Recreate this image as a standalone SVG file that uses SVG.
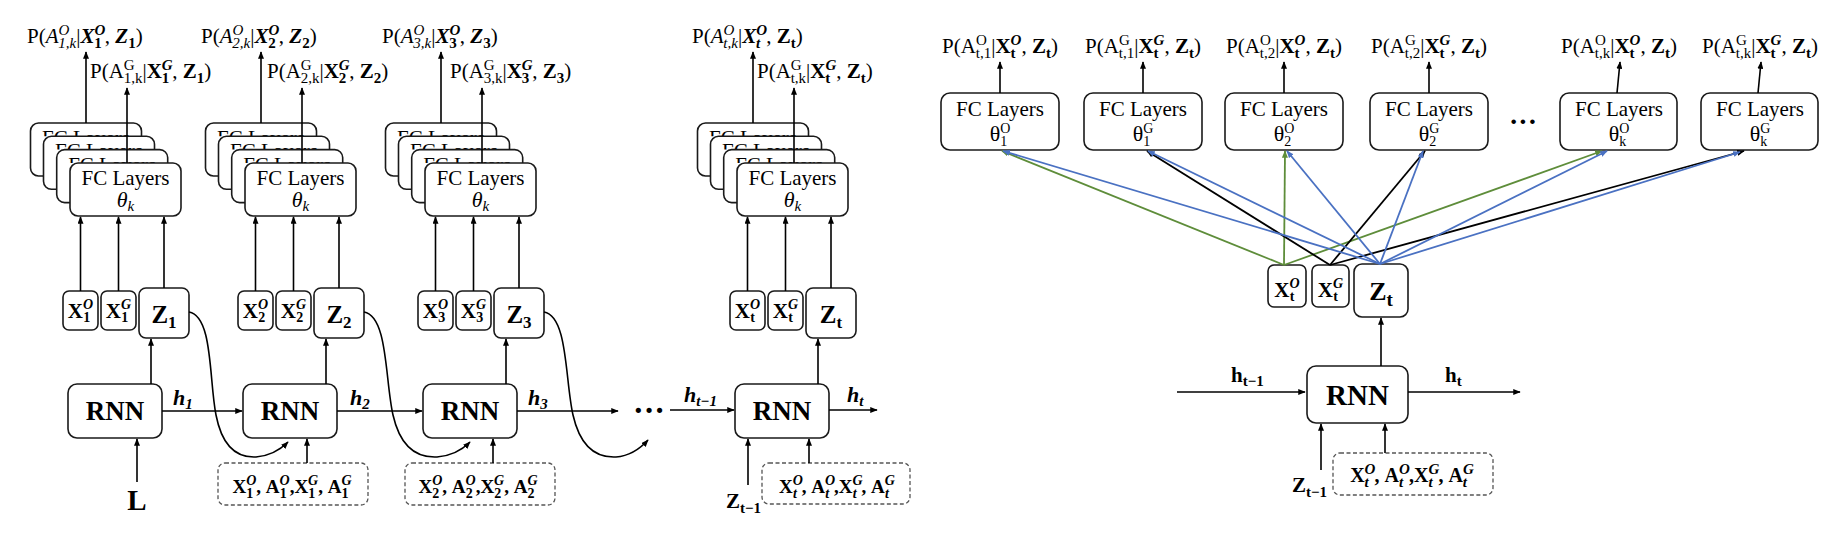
<svg xmlns="http://www.w3.org/2000/svg" width="1838" height="536" viewBox="0 0 1838 536">
<defs>
<style>
text{font-family:"Liberation Serif","Times New Roman",serif;fill:#000}
.box{fill:#fff;stroke:#1a1a1a;stroke-width:1.6}
.dash{fill:#fff;stroke:#555;stroke-width:1.3;stroke-dasharray:4 2.5}
.ln{stroke:#000;stroke-width:1.6;fill:none}
.ar{marker-end:url(#ak)}
.g{stroke:#5e8d3a;stroke-width:1.8;fill:none;marker-end:url(#ag)}
.bl{stroke:#4a71c2;stroke-width:1.8;fill:none;marker-end:url(#ab)}
.k{stroke:#000;stroke-width:1.8;fill:none;marker-end:url(#ak)}
.lbl{font-size:21px}
.mid{text-anchor:middle}
.s{font-size:15px}
.s2{font-size:14px}
.b{font-weight:bold}
.i{font-style:italic}
.fc{font-size:21px;text-anchor:middle}
.th{font-size:22px}
.rnn{font-size:27px;font-weight:bold;text-anchor:middle}
.sx{font-size:21px;font-weight:bold;text-anchor:middle}
.zx{font-size:25px;font-weight:bold;text-anchor:middle}
.zs{font-size:17px}
.dt{font-size:19px;font-weight:bold;text-anchor:middle}
.hl{font-size:22px;font-weight:bold;font-style:italic}
.hr{font-size:21px;font-weight:bold}
.hs{font-size:15px}
</style>
<clipPath id="cb"><rect x="0" y="0" width="111" height="13.3"/></clipPath>
<marker id="ak" viewBox="0 0 10 8" refX="9" refY="4" markerWidth="7.5" markerHeight="6" markerUnits="userSpaceOnUse" orient="auto"><path d="M0,0 L10,4 L0,8 z" fill="#000"/></marker>
<marker id="ag" viewBox="0 0 10 8" refX="9" refY="4" markerWidth="7.5" markerHeight="6" markerUnits="userSpaceOnUse" orient="auto"><path d="M0,0 L10,4 L0,8 z" fill="#5e8d3a"/></marker>
<marker id="ab" viewBox="0 0 10 8" refX="9" refY="4" markerWidth="7.5" markerHeight="6" markerUnits="userSpaceOnUse" orient="auto"><path d="M0,0 L10,4 L0,8 z" fill="#4a71c2"/></marker>
</defs>
<rect width="1838" height="536" fill="#fff"/>

<!-- ================= LEFT PANEL ================= -->
<g id="labels-left">
<text class="lbl" x="27" y="43">P(<tspan class="i">A</tspan><tspan class="s i" dy="-8">O</tspan><tspan class="s i" dx="-11" dy="13">1,k</tspan><tspan dy="-5">|</tspan><tspan class="b i">X</tspan><tspan class="s b i" dy="-8">O</tspan><tspan class="s b" dx="-11" dy="13">1</tspan><tspan dx="3" dy="-5">,&#160;</tspan><tspan class="b i">Z</tspan><tspan class="s b" dy="5">1</tspan><tspan dy="-5">)</tspan></text>
<text class="lbl" x="90" y="78">P(A<tspan class="s" dy="-8">G</tspan><tspan class="s" dx="-11" dy="13">1,k</tspan><tspan dy="-5">|</tspan><tspan class="b">X</tspan><tspan class="s b i" dy="-8">G</tspan><tspan class="s b" dx="-11" dy="13">1</tspan><tspan dx="3" dy="-5">,&#160;</tspan><tspan class="b">Z</tspan><tspan class="s b" dy="5">1</tspan><tspan dy="-5">)</tspan></text>
<text class="lbl" x="201" y="43">P(<tspan class="i">A</tspan><tspan class="s i" dy="-8">O</tspan><tspan class="s i" dx="-11" dy="13">2,k</tspan><tspan dy="-5">|</tspan><tspan class="b i">X</tspan><tspan class="s b i" dy="-8">O</tspan><tspan class="s b" dx="-11" dy="13">2</tspan><tspan dx="3" dy="-5">,&#160;</tspan><tspan class="b i">Z</tspan><tspan class="s b" dy="5">2</tspan><tspan dy="-5">)</tspan></text>
<text class="lbl" x="267" y="78">P(A<tspan class="s" dy="-8">G</tspan><tspan class="s" dx="-11" dy="13">2,k</tspan><tspan dy="-5">|</tspan><tspan class="b">X</tspan><tspan class="s b i" dy="-8">G</tspan><tspan class="s b" dx="-11" dy="13">2</tspan><tspan dx="3" dy="-5">,&#160;</tspan><tspan class="b">Z</tspan><tspan class="s b" dy="5">2</tspan><tspan dy="-5">)</tspan></text>
<text class="lbl" x="382" y="43">P(<tspan class="i">A</tspan><tspan class="s i" dy="-8">O</tspan><tspan class="s i" dx="-11" dy="13">3,k</tspan><tspan dy="-5">|</tspan><tspan class="b i">X</tspan><tspan class="s b i" dy="-8">O</tspan><tspan class="s b" dx="-11" dy="13">3</tspan><tspan dx="3" dy="-5">,&#160;</tspan><tspan class="b i">Z</tspan><tspan class="s b" dy="5">3</tspan><tspan dy="-5">)</tspan></text>
<text class="lbl" x="450" y="78">P(A<tspan class="s" dy="-8">G</tspan><tspan class="s" dx="-11" dy="13">3,k</tspan><tspan dy="-5">|</tspan><tspan class="b">X</tspan><tspan class="s b i" dy="-8">G</tspan><tspan class="s b" dx="-11" dy="13">3</tspan><tspan dx="3" dy="-5">,&#160;</tspan><tspan class="b">Z</tspan><tspan class="s b" dy="5">3</tspan><tspan dy="-5">)</tspan></text>
<text class="lbl" x="692" y="43">P(<tspan class="i">A</tspan><tspan class="s i" dy="-8">O</tspan><tspan class="s i" dx="-11" dy="13">t,k</tspan><tspan dy="-5">|</tspan><tspan class="b i">X</tspan><tspan class="s b i" dy="-8">O</tspan><tspan class="s b i" dx="-11" dy="13">t</tspan><tspan dx="6" dy="-5">,&#160;</tspan><tspan class="b">Z</tspan><tspan class="s b" dy="5">t</tspan><tspan dy="-5">)</tspan></text>
<text class="lbl" x="757" y="78">P(A<tspan class="s" dy="-8">G</tspan><tspan class="s" dx="-11" dy="13">t,k</tspan><tspan dy="-5">|</tspan><tspan class="b">X</tspan><tspan class="s b i" dy="-8">G</tspan><tspan class="s b" dx="-11" dy="13">t</tspan><tspan dx="6" dy="-5">,&#160;</tspan><tspan class="b">Z</tspan><tspan class="s b" dy="5">t</tspan><tspan dy="-5">)</tspan></text>
</g>

<g id="fc-stack-1">
<g transform="translate(30.5,123)"><rect class="box" width="111" height="53" rx="8"/><text class="fc" x="55.5" y="22" clip-path="url(#cb)">FC Layers</text></g>
<g transform="translate(43.5,136.3)"><rect class="box" width="111" height="53" rx="8"/><text class="fc" x="55.5" y="22" clip-path="url(#cb)">FC Layers</text></g>
<g transform="translate(56.7,149.6)"><rect class="box" width="111" height="53" rx="8"/><text class="fc" x="55.5" y="22" clip-path="url(#cb)">FC Layers</text></g>
<rect class="box" x="70" y="163" width="111" height="53" rx="8"/><text class="fc" x="125.5" y="185">FC Layers</text>
<text class="th i mid" x="125.5" y="207">θ<tspan class="s" dy="4">k</tspan></text>
</g>
<g id="fc-stack-2">
<g transform="translate(205.5,123)"><rect class="box" width="111" height="53" rx="8"/><text class="fc" x="55.5" y="22" clip-path="url(#cb)">FC Layers</text></g>
<g transform="translate(218.5,136.3)"><rect class="box" width="111" height="53" rx="8"/><text class="fc" x="55.5" y="22" clip-path="url(#cb)">FC Layers</text></g>
<g transform="translate(231.7,149.6)"><rect class="box" width="111" height="53" rx="8"/><text class="fc" x="55.5" y="22" clip-path="url(#cb)">FC Layers</text></g>
<rect class="box" x="245" y="163" width="111" height="53" rx="8"/><text class="fc" x="300.5" y="185">FC Layers</text>
<text class="th i mid" x="300.5" y="207">θ<tspan class="s" dy="4">k</tspan></text>
</g>
<g id="fc-stack-3">
<g transform="translate(385.5,123)"><rect class="box" width="111" height="53" rx="8"/><text class="fc" x="55.5" y="22" clip-path="url(#cb)">FC Layers</text></g>
<g transform="translate(398.5,136.3)"><rect class="box" width="111" height="53" rx="8"/><text class="fc" x="55.5" y="22" clip-path="url(#cb)">FC Layers</text></g>
<g transform="translate(411.7,149.6)"><rect class="box" width="111" height="53" rx="8"/><text class="fc" x="55.5" y="22" clip-path="url(#cb)">FC Layers</text></g>
<rect class="box" x="425" y="163" width="111" height="53" rx="8"/><text class="fc" x="480.5" y="185">FC Layers</text>
<text class="th i mid" x="480.5" y="207">θ<tspan class="s" dy="4">k</tspan></text>
</g>
<g id="fc-stack-t">
<g transform="translate(697.5,123)"><rect class="box" width="111" height="53" rx="8"/><text class="fc" x="55.5" y="22" clip-path="url(#cb)">FC Layers</text></g>
<g transform="translate(710.5,136.3)"><rect class="box" width="111" height="53" rx="8"/><text class="fc" x="55.5" y="22" clip-path="url(#cb)">FC Layers</text></g>
<g transform="translate(723.7,149.6)"><rect class="box" width="111" height="53" rx="8"/><text class="fc" x="55.5" y="22" clip-path="url(#cb)">FC Layers</text></g>
<rect class="box" x="737" y="163" width="111" height="53" rx="8"/><text class="fc" x="792.5" y="185">FC Layers</text>
<text class="th i mid" x="792.5" y="207">θ<tspan class="s" dy="4">k</tspan></text>
</g>

<g id="x1o"><rect class="box" x="63" y="291" width="35" height="39" rx="6"/><text class="sx" x="80.5" y="318">X<tspan class="s2 i" dy="-9">O</tspan><tspan class="s2" dx="-10" dy="13">1</tspan></text></g>
<g id="x1g"><rect class="box" x="101" y="291" width="35" height="39" rx="6"/><text class="sx" x="118.5" y="318">X<tspan class="s2 i" dy="-9">G</tspan><tspan class="s2" dx="-10" dy="13">1</tspan></text></g>
<g id="z1"><rect class="box" x="139" y="288" width="50" height="50" rx="7"/><text class="zx" x="164" y="323">Z<tspan class="zs" dy="5">1</tspan></text></g>
<g id="x2o"><rect class="box" x="238" y="291" width="35" height="39" rx="6"/><text class="sx" x="255.5" y="318">X<tspan class="s2 i" dy="-9">O</tspan><tspan class="s2" dx="-10" dy="13">2</tspan></text></g>
<g id="x2g"><rect class="box" x="276" y="291" width="35" height="39" rx="6"/><text class="sx" x="293.5" y="318">X<tspan class="s2 i" dy="-9">G</tspan><tspan class="s2" dx="-10" dy="13">2</tspan></text></g>
<g id="z2"><rect class="box" x="314" y="288" width="50" height="50" rx="7"/><text class="zx" x="339" y="323">Z<tspan class="zs" dy="5">2</tspan></text></g>
<g id="x3o"><rect class="box" x="418" y="291" width="35" height="39" rx="6"/><text class="sx" x="435.5" y="318">X<tspan class="s2 i" dy="-9">O</tspan><tspan class="s2" dx="-10" dy="13">3</tspan></text></g>
<g id="x3g"><rect class="box" x="456" y="291" width="35" height="39" rx="6"/><text class="sx" x="473.5" y="318">X<tspan class="s2 i" dy="-9">G</tspan><tspan class="s2" dx="-10" dy="13">3</tspan></text></g>
<g id="z3"><rect class="box" x="494" y="288" width="50" height="50" rx="7"/><text class="zx" x="519" y="323">Z<tspan class="zs" dy="5">3</tspan></text></g>
<g id="xto"><rect class="box" x="730" y="291" width="35" height="39" rx="6"/><text class="sx" x="747.5" y="318">X<tspan class="s2 i" dy="-9">O</tspan><tspan class="s2" dx="-10" dy="13">t</tspan></text></g>
<g id="xtg"><rect class="box" x="768" y="291" width="35" height="39" rx="6"/><text class="sx" x="785.5" y="318">X<tspan class="s2 i" dy="-9">G</tspan><tspan class="s2" dx="-10" dy="13">t</tspan></text></g>
<g id="zt"><rect class="box" x="806" y="288" width="50" height="50" rx="7"/><text class="zx" x="831" y="323">Z<tspan class="zs" dy="5">t</tspan></text></g>

<g id="rnn1"><rect class="box" x="68" y="384" width="94" height="54" rx="9"/><text class="rnn" x="115" y="420">RNN</text></g>
<g id="rnn2"><rect class="box" x="243" y="384" width="94" height="54" rx="9"/><text class="rnn" x="290" y="420">RNN</text></g>
<g id="rnn3"><rect class="box" x="423" y="384" width="94" height="54" rx="9"/><text class="rnn" x="470" y="420">RNN</text></g>
<g id="rnnt"><rect class="box" x="735" y="384" width="94" height="54" rx="9"/><text class="rnn" x="782" y="420">RNN</text></g>

<g id="in1"><rect class="dash" x="218" y="463" width="150" height="42" rx="7"/><text class="dt" x="292" y="493">X<tspan class="s2 i" dy="-8">O</tspan><tspan class="s2" dx="-10" dy="13">1</tspan><tspan dx="3" dy="-5">,&#160;A</tspan><tspan class="s2 i" dy="-8">O</tspan><tspan class="s2" dx="-10" dy="13">1</tspan><tspan dx="3" dy="-5">,X</tspan><tspan class="s2 i" dy="-8">G</tspan><tspan class="s2" dx="-10" dy="13">1</tspan><tspan dx="3" dy="-5">,&#160;A</tspan><tspan class="s2 i" dy="-8">G</tspan><tspan class="s2" dx="-10" dy="13">1</tspan></text></g>
<g id="in2"><rect class="dash" x="405" y="463" width="150" height="42" rx="7"/><text class="dt" x="478" y="493">X<tspan class="s2 i" dy="-8">O</tspan><tspan class="s2" dx="-10" dy="13">2</tspan><tspan dx="3" dy="-5">,&#160;A</tspan><tspan class="s2 i" dy="-8">O</tspan><tspan class="s2" dx="-10" dy="13">2</tspan><tspan dx="3" dy="-5">,X</tspan><tspan class="s2 i" dy="-8">G</tspan><tspan class="s2" dx="-10" dy="13">2</tspan><tspan dx="3" dy="-5">,&#160;A</tspan><tspan class="s2 i" dy="-8">G</tspan><tspan class="s2" dx="-10" dy="13">2</tspan></text></g>
<g id="int"><rect class="dash" x="762" y="463" width="148" height="41" rx="7"/><text class="dt" x="837" y="493">X<tspan class="s2 i" dy="-8">O</tspan><tspan class="s2 i" dx="-10" dy="13">t</tspan><tspan dx="5" dy="-5">,&#160;A</tspan><tspan class="s2 i" dy="-8">O</tspan><tspan class="s2 i" dx="-10" dy="13">t</tspan><tspan dx="5" dy="-5">,X</tspan><tspan class="s2 i" dy="-8">G</tspan><tspan class="s2 i" dx="-10" dy="13">t</tspan><tspan dx="5" dy="-5">,&#160;A</tspan><tspan class="s2 i" dy="-8">G</tspan><tspan class="s2 i" dx="-10" dy="13">t</tspan></text></g>

<g id="left-texts">
<text class="hl" x="173" y="405">h<tspan class="hs" dy="4">1</tspan></text>
<text class="hl" x="350" y="405">h<tspan class="hs" dy="4">2</tspan></text>
<text class="hl" x="528" y="405">h<tspan class="hs" dy="4">3</tspan></text>
<text class="hl" x="684" y="402">h<tspan class="hs" dy="4">t−1</tspan></text>
<text class="hl" x="847" y="402">h<tspan class="hs" dy="4">t</tspan></text>
<text class="b mid" x="649" y="421" style="font-size:32px">···</text>
<text class="b mid" x="137" y="510" style="font-size:29px">L</text>
<text class="b" x="726" y="508" style="font-size:21px">Z<tspan class="hs" dy="5">t−1</tspan></text>
</g>

<!-- ================= RIGHT PANEL ================= -->
<g id="labels-right">
<text class="lbl mid" x="1000" y="53">P(A<tspan class="s" dy="-8">O</tspan><tspan class="s" dx="-11" dy="13">t,1</tspan><tspan dy="-5">|</tspan><tspan class="b">X</tspan><tspan class="s b i" dy="-8">O</tspan><tspan class="s b" dx="-11" dy="13">t</tspan><tspan dx="6" dy="-5">,&#160;</tspan><tspan class="b">Z</tspan><tspan class="s b" dy="5">t</tspan><tspan dy="-5">)</tspan></text>
<text class="lbl mid" x="1143" y="53">P(A<tspan class="s" dy="-8">G</tspan><tspan class="s" dx="-11" dy="13">t,1</tspan><tspan dy="-5">|</tspan><tspan class="b">X</tspan><tspan class="s b i" dy="-8">G</tspan><tspan class="s b" dx="-11" dy="13">t</tspan><tspan dx="6" dy="-5">,&#160;</tspan><tspan class="b">Z</tspan><tspan class="s b" dy="5">t</tspan><tspan dy="-5">)</tspan></text>
<text class="lbl mid" x="1284" y="53">P(A<tspan class="s" dy="-8">O</tspan><tspan class="s" dx="-11" dy="13">t,2</tspan><tspan dy="-5">|</tspan><tspan class="b">X</tspan><tspan class="s b i" dy="-8">O</tspan><tspan class="s b" dx="-11" dy="13">t</tspan><tspan dx="6" dy="-5">,&#160;</tspan><tspan class="b">Z</tspan><tspan class="s b" dy="5">t</tspan><tspan dy="-5">)</tspan></text>
<text class="lbl mid" x="1429" y="53">P(A<tspan class="s" dy="-8">G</tspan><tspan class="s" dx="-11" dy="13">t,2</tspan><tspan dy="-5">|</tspan><tspan class="b">X</tspan><tspan class="s b i" dy="-8">G</tspan><tspan class="s b" dx="-11" dy="13">t</tspan><tspan dx="6" dy="-5">,&#160;</tspan><tspan class="b">Z</tspan><tspan class="s b" dy="5">t</tspan><tspan dy="-5">)</tspan></text>
<text class="lbl mid" x="1619" y="53">P(A<tspan class="s" dy="-8">O</tspan><tspan class="s" dx="-11" dy="13">t,k</tspan><tspan dy="-5">|</tspan><tspan class="b">X</tspan><tspan class="s b i" dy="-8">O</tspan><tspan class="s b" dx="-11" dy="13">t</tspan><tspan dx="6" dy="-5">,&#160;</tspan><tspan class="b">Z</tspan><tspan class="s b" dy="5">t</tspan><tspan dy="-5">)</tspan></text>
<text class="lbl mid" x="1760" y="53">P(A<tspan class="s" dy="-8">G</tspan><tspan class="s" dx="-11" dy="13">t,k</tspan><tspan dy="-5">|</tspan><tspan class="b">X</tspan><tspan class="s b i" dy="-8">G</tspan><tspan class="s b" dx="-11" dy="13">t</tspan><tspan dx="6" dy="-5">,&#160;</tspan><tspan class="b">Z</tspan><tspan class="s b" dy="5">t</tspan><tspan dy="-5">)</tspan></text>
</g>

<g id="fc-o1"><rect class="box" x="941" y="93" width="118" height="57" rx="9"/><text class="fc" x="1000" y="116">FC Layers</text><text class="th mid" x="1000" y="141">θ<tspan class="s2" dy="-8">O</tspan><tspan class="s2" dx="-10" dy="13">1</tspan></text></g>
<g id="fc-g1"><rect class="box" x="1084" y="93" width="118" height="57" rx="9"/><text class="fc" x="1143" y="116">FC Layers</text><text class="th mid" x="1143" y="141">θ<tspan class="s2" dy="-8">G</tspan><tspan class="s2" dx="-10" dy="13">1</tspan></text></g>
<g id="fc-o2"><rect class="box" x="1225" y="93" width="118" height="57" rx="9"/><text class="fc" x="1284" y="116">FC Layers</text><text class="th mid" x="1284" y="141">θ<tspan class="s2" dy="-8">O</tspan><tspan class="s2" dx="-10" dy="13">2</tspan></text></g>
<g id="fc-g2"><rect class="box" x="1370" y="93" width="118" height="57" rx="9"/><text class="fc" x="1429" y="116">FC Layers</text><text class="th mid" x="1429" y="141">θ<tspan class="s2" dy="-8">G</tspan><tspan class="s2" dx="-10" dy="13">2</tspan></text></g>
<g id="fc-ok"><rect class="box" x="1560" y="93" width="117" height="57" rx="9"/><text class="fc" x="1619" y="116">FC Layers</text><text class="th mid" x="1619" y="141">θ<tspan class="s2" dy="-8">O</tspan><tspan class="s2" dx="-10" dy="13">k</tspan></text></g>
<g id="fc-gk"><rect class="box" x="1701" y="93" width="117" height="57" rx="9"/><text class="fc" x="1760" y="116">FC Layers</text><text class="th mid" x="1760" y="141">θ<tspan class="s2" dy="-8">G</tspan><tspan class="s2" dx="-10" dy="13">k</tspan></text></g>
<text class="b mid" x="1523" y="131" style="font-size:28px">···</text>

<g id="r-xo"><rect class="box" x="1268" y="265" width="38" height="42" rx="6"/><text class="sx" x="1287" y="297">X<tspan class="s2 i" dy="-9">O</tspan><tspan class="s2" dx="-10" dy="13">t</tspan></text></g>
<g id="r-xg"><rect class="box" x="1312" y="265" width="37" height="42" rx="6"/><text class="sx" x="1330.5" y="297">X<tspan class="s2 i" dy="-9">G</tspan><tspan class="s2" dx="-10" dy="13">t</tspan></text></g>
<g id="r-zt"><rect class="box" x="1354" y="264" width="54" height="53" rx="8"/><text class="zx" x="1381" y="300" style="font-size:26px">Z<tspan class="zs" dy="6" style="font-size:19px">t</tspan></text></g>
<g id="r-rnn"><rect class="box" x="1307" y="366" width="101" height="57" rx="9"/><text class="rnn" x="1357.5" y="405" style="font-size:29px">RNN</text></g>
<g id="r-in"><rect class="dash" x="1333" y="453" width="160" height="42" rx="7"/><text class="dt" x="1412" y="482" style="font-size:20px">X<tspan class="s i" dy="-8">O</tspan><tspan class="s i" dx="-11" dy="13">t</tspan><tspan dx="6" dy="-5">,&#160;A</tspan><tspan class="s i" dy="-8">O</tspan><tspan class="s i" dx="-11" dy="13">t</tspan><tspan dx="6" dy="-5">,X</tspan><tspan class="s i" dy="-8">G</tspan><tspan class="s i" dx="-11" dy="13">t</tspan><tspan dx="6" dy="-5">,&#160;A</tspan><tspan class="s i" dy="-8">G</tspan><tspan class="s i" dx="-11" dy="13">t</tspan></text></g>
<g id="right-texts">
<text class="hr" x="1231" y="382">h<tspan class="hs" dy="4">t−1</tspan></text>
<text class="hr" x="1445" y="382">h<tspan class="hs" dy="4">t</tspan></text>
<text class="b" x="1292" y="492" style="font-size:21px">Z<tspan class="hs" dy="5">t−1</tspan></text>
</g>

<!-- ================= CONNECTORS ================= -->
<g id="connectors">
<g class="ln ar">
<path d="M86,123V52"/><path d="M127,163V88"/>
<path d="M261,123V52"/><path d="M302,163V88"/>
<path d="M441,123V52"/><path d="M482,163V88"/>
<path d="M753,123V52"/><path d="M794,163V88"/>
<path d="M80.5,291V217"/><path d="M118.5,291V217"/><path d="M164,288V217"/>
<path d="M255.5,291V217"/><path d="M293.5,291V217"/><path d="M339,288V217"/>
<path d="M435.5,291V217"/><path d="M473.5,291V217"/><path d="M519,288V217"/>
<path d="M747.5,291V217"/><path d="M785.5,291V217"/><path d="M831,288V217"/>
<path d="M151,384V339"/><path d="M326,384V339"/><path d="M506,384V339"/><path d="M818,384V339"/>
<path d="M162,411H242"/><path d="M337,411H422"/><path d="M517,411H618"/>
<path d="M670,410H734"/><path d="M829,410H877"/>
<path d="M189,312C213,316 209,380 216,415C222,446 236,458 256,457C268,456 279,451 288,442"/>
<path d="M364,312C388,316 385,380 393,415C400,446 416,458 437,457C450,456 461,451 470,442"/>
<path d="M544,312C568,316 565,380 573,415C580,446 596,458 616,457C628,456 639,450 648,440"/>
<path d="M137,482V439"/><path d="M307,463V439"/><path d="M493,463V439"/>
<path d="M748,485V439"/><path d="M809,463V439"/>
<path d="M1000,93V62"/><path d="M1143,93V62"/><path d="M1284,93V62"/><path d="M1429,93V62"/>
<path d="M1617,93L1620,62"/><path d="M1758,93L1761,62"/>
<path d="M1381,366V318"/>
<path d="M1177,392H1305"/><path d="M1408,392H1520"/>
<path d="M1321,470V424"/><path d="M1385,453V424"/>
</g>
<path class="g" d="M1284,265L1002,151"/>
<path class="g" d="M1284,265L1285,151"/>
<path class="g" d="M1284,265L1602,151"/>
<path class="k" d="M1330,265L1147,151"/>
<path class="k" d="M1330,265L1425,151"/>
<path class="k" d="M1330,265L1744,151"/>
<path class="bl" d="M1380,264L1003,151"/>
<path class="bl" d="M1380,264L1148,151"/>
<path class="bl" d="M1380,264L1287,151"/>
<path class="bl" d="M1380,264L1423,151"/>
<path class="bl" d="M1380,264L1607,151"/>
<path class="bl" d="M1380,264L1740,152"/>
</g>
</svg>
